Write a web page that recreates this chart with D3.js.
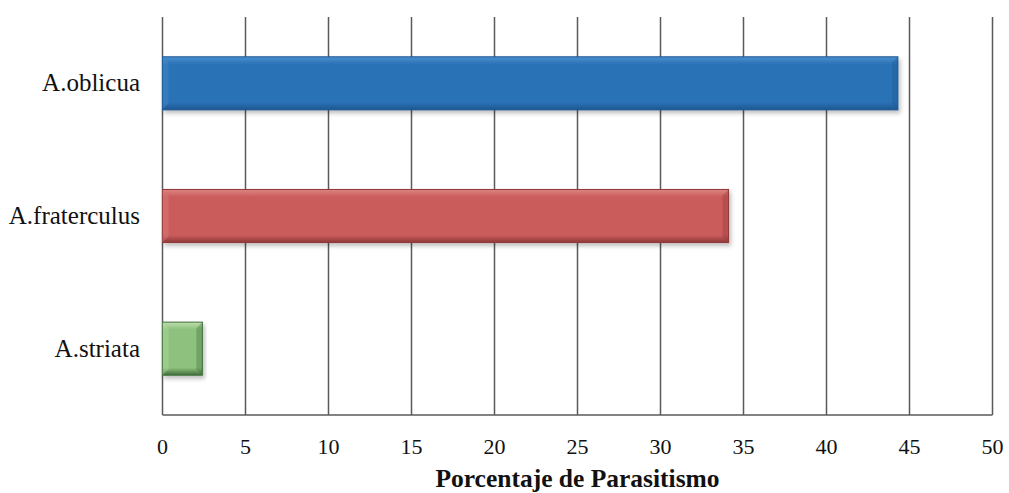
<!DOCTYPE html>
<html><head><meta charset="utf-8">
<script src="https://cdn.jsdelivr.net/npm/d3@7"></script>
<style>html,body{margin:0;padding:0;background:#fff;}svg{display:block;}
text{font-family:'Liberation Serif','Times New Roman','Tinos','DejaVu Serif',serif;}</style>
</head><body>
<svg id="c" width="1009" height="493"></svg>
<script>
const categories = ["A.oblicua", "A.fraterculus", "A.striata"];
const values = [44.3, 34.1, 2.4];
const tickValues = [0, 5, 10, 15, 20, 25, 30, 35, 40, 45, 50];
const axisTitle = "Porcentaje de Parasitismo";
const palette = [
  {light: "#4a90cf", main: "#2b72b6", dark: "#1d5690"},
  {light: "#dc8582", main: "#cb5c5c", dark: "#8e3838"},
  {light: "#bedfae", main: "#8dc17d", dark: "#3f6e3b"}
];

const svg = d3.select("#c");
const m = {left: 162.5, right: 992.5, top: 17, bottom: 415};
const x = d3.scaleLinear().domain([0, 50]).range([m.left, m.right]);
const y = d3.scaleBand().domain(categories).range([m.top, m.bottom]).paddingInner(0.6).paddingOuter(0.3);

const defs = svg.append("defs");
palette.forEach((p, i) => {
  const g = defs.append("linearGradient").attr("id", "g" + i).attr("x1", 0).attr("y1", 0).attr("x2", 0).attr("y2", 1);
  g.append("stop").attr("offset", "0").attr("stop-color", p.light);
  g.append("stop").attr("offset", "0.14").attr("stop-color", p.main);
  g.append("stop").attr("offset", "0.86").attr("stop-color", p.main);
  g.append("stop").attr("offset", "1").attr("stop-color", p.dark);
});
const f = defs.append("filter").attr("id", "sh").attr("x", "-5%").attr("y", "-20%").attr("width", "115%").attr("height", "150%");
f.append("feDropShadow").attr("dx", 2).attr("dy", 3).attr("stdDeviation", 2).attr("flood-color", "#000").attr("flood-opacity", 0.25);

// gridlines
svg.append("g").selectAll("line").data(tickValues).join("line")
  .attr("x1", d => x(d)).attr("x2", d => x(d))
  .attr("y1", m.top).attr("y2", m.bottom)
  .attr("stroke", "#5a5a5a").attr("stroke-width", 1.5);

// bottom axis line
svg.append("line").attr("x1", m.left).attr("x2", m.right).attr("y1", m.bottom).attr("y2", m.bottom)
  .attr("stroke", "#5a5a5a").attr("stroke-width", 1.5);

// bars
const bars = svg.append("g").selectAll("g").data(categories).join("g");
bars.append("rect")
  .attr("x", x(0)).attr("y", d => y(d))
  .attr("width", (d, i) => x(values[i]) - x(0))
  .attr("height", y.bandwidth())
  .attr("fill", (d, i) => `url(#g${i})`)
  .attr("stroke", (d, i) => palette[i].dark).attr("stroke-width", 1)
  .attr("filter", "url(#sh)");
// bevel right edge
bars.append("path")
  .attr("d", (d, i) => {
    const x1 = x(values[i]), y0 = y(d), h = y.bandwidth(), b = 6;
    return `M${x1},${y0}L${x1 - b},${y0 + b}L${x1 - b},${y0 + h - b}L${x1},${y0 + h}Z`;
  })
  .attr("fill", (d, i) => palette[i].dark).attr("opacity", 0.35);
bars.append("path")
  .attr("d", (d, i) => {
    const x0 = x(0), y0 = y(d), h = y.bandwidth(), b = 6;
    return `M${x0},${y0}L${x0 + b},${y0 + b}L${x0 + b},${y0 + h - b}L${x0},${y0 + h}Z`;
  })
  .attr("fill", (d, i) => palette[i].light).attr("opacity", 0.35);

// x tick labels
svg.append("g").selectAll("text").data(tickValues).join("text")
  .attr("x", d => x(d)).attr("y", 454)
  .attr("text-anchor", "middle")
  .attr("font-size", 22).attr("fill", "#111")
  .text(d => d);

// category labels
svg.append("g").selectAll("text").data(categories).join("text")
  .attr("x", 140).attr("y", d => y(d) + y.bandwidth() / 2 + 8)
  .attr("text-anchor", "end")
  .attr("font-size", 25).attr("fill", "#111")
  .text(d => d);

// axis title
svg.append("text")
  .attr("x", (m.left + m.right) / 2).attr("y", 487)
  .attr("text-anchor", "middle")
  .attr("font-size", 25.5).attr("font-weight", "bold").attr("fill", "#111")
  .text(axisTitle);
</script>
</body></html>
